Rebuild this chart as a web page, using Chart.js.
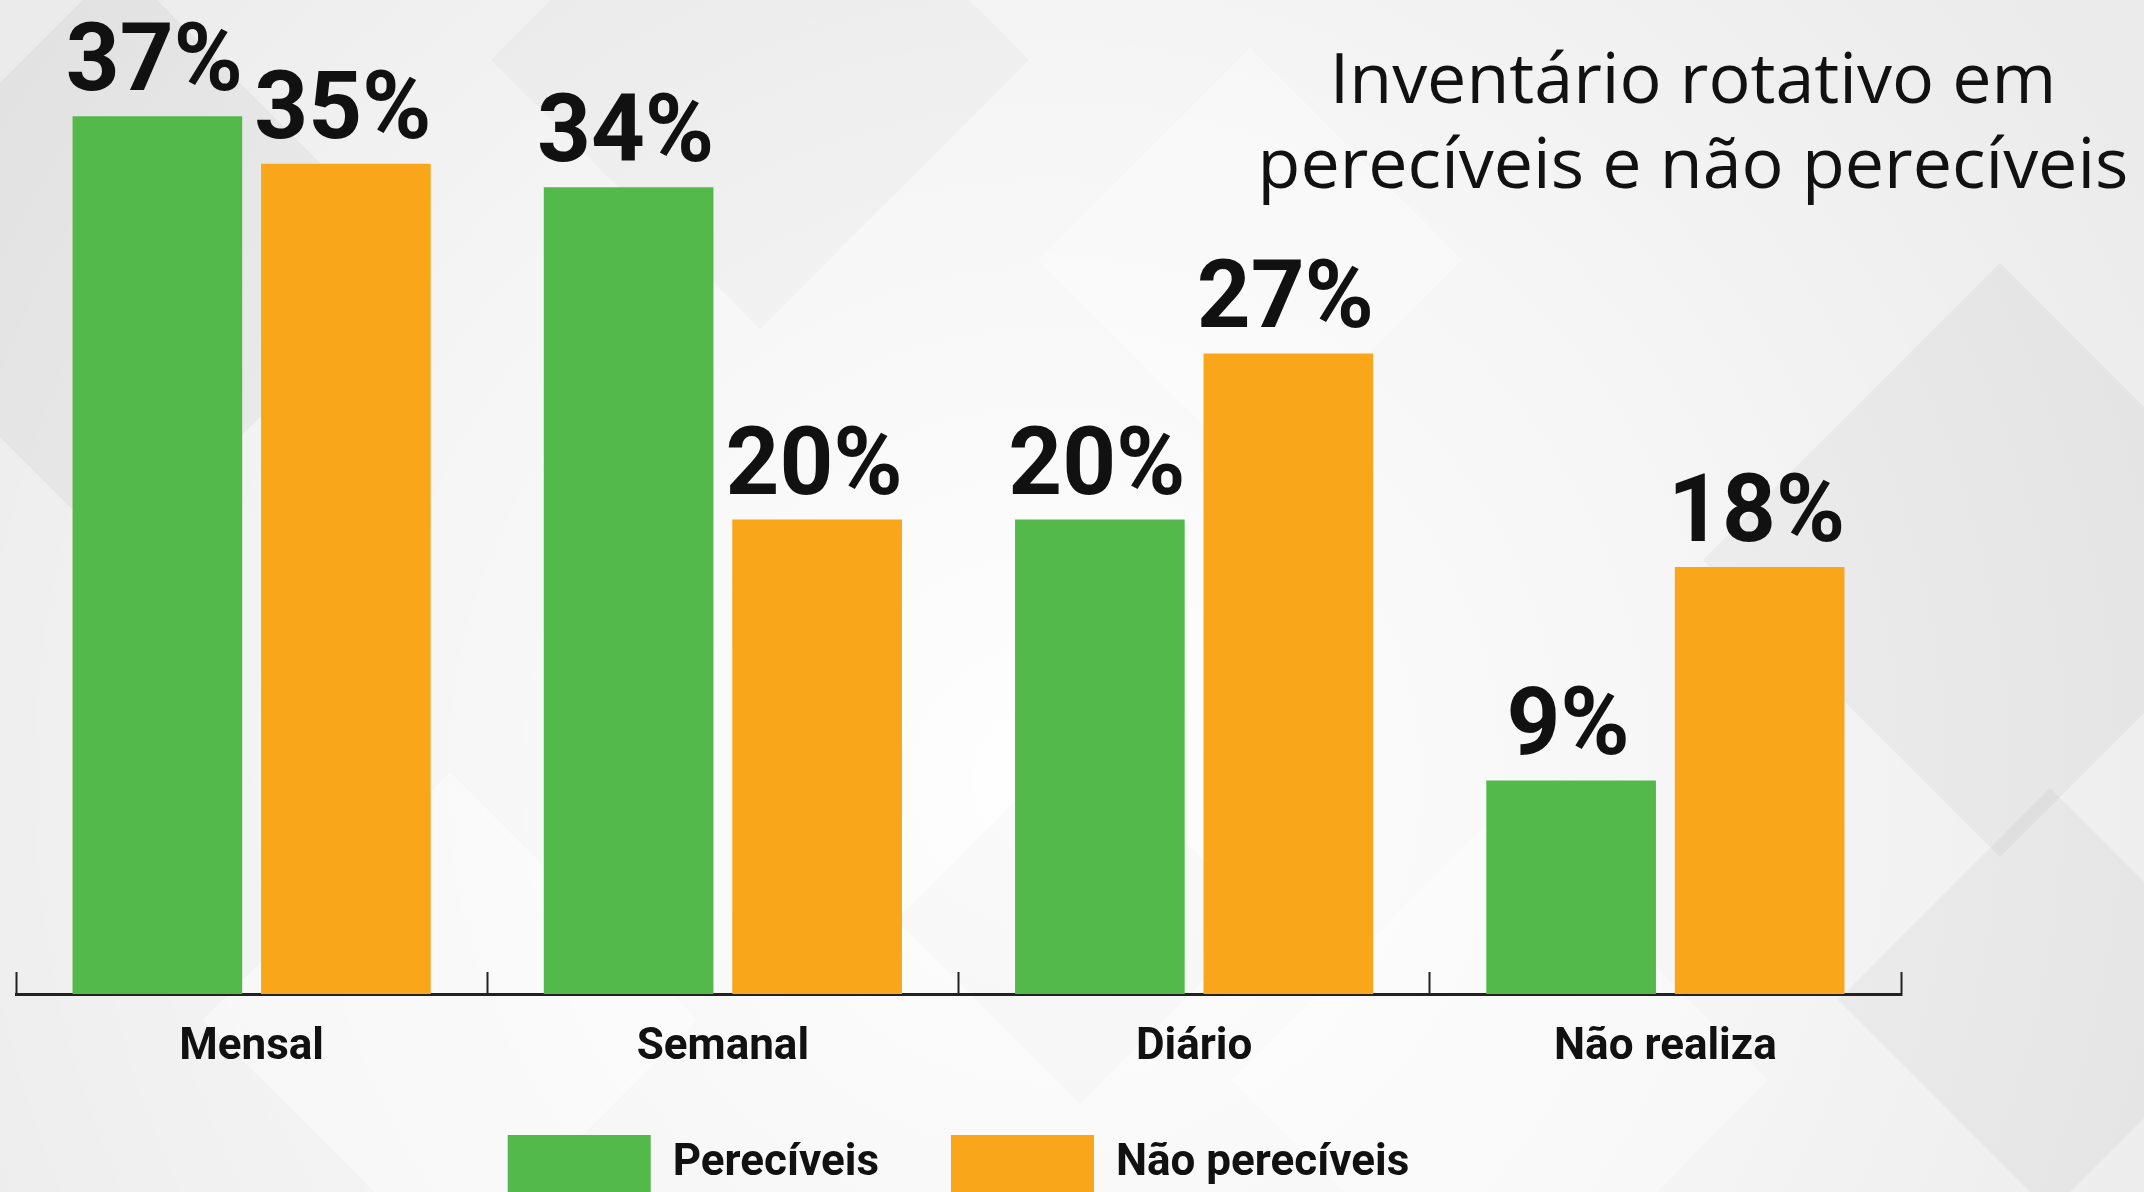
<!DOCTYPE html>
<html>
<head>
<meta charset="utf-8">
<script src="https://cdn.jsdelivr.net/npm/chart.js@4/dist/chart.umd.min.js"></script>
<style>
  html, body { margin: 0; padding: 0; background: #eeeeee; overflow: hidden; }
  canvas { display: block; }
</style>
</head>
<body>
<canvas id="c" width="2144" height="1192"></canvas>
<script>
// ---- data ----
const categories = ['Mensal', 'Semanal', 'Diário', 'Não realiza'];
const seriesNames = ['Perecíveis', 'Não perecíveis'];
const pereciveis = [37, 34, 20, 9];
const naoPereciveis = [35, 20, 27, 18];
const titleLines = ['Inventário rotativo em', 'perecíveis e não perecíveis'];
const valueSuffix = '%';

// ---- styles ----
const GREEN = '#53B94B';
const ORANGE = '#FAA61A';
const CONDENSED = 'Roboto, "Liberation Sans", sans-serif';

const backgroundPlugin = {
  id: 'bg',
  beforeDraw(chart) {
    const { ctx, width, height } = chart;
    ctx.save();
    ctx.fillStyle = '#e9e9e9';
    ctx.fillRect(0, 0, width, height);
    const g = ctx.createRadialGradient(1050, 780, 50, 1050, 780, 1250);
    g.addColorStop(0, 'rgba(255,255,255,0.95)');
    g.addColorStop(0.55, 'rgba(255,255,255,0.55)');
    g.addColorStop(1, 'rgba(255,255,255,0.1)');
    ctx.fillStyle = g;
    ctx.fillRect(0, 0, width, height);
    const squares = [
      [120, 260, 420, 'rgba(0,0,0,0.035)'],
      [760, 60, 380, 'rgba(0,0,0,0.025)'],
      [1250, 260, 300, 'rgba(255,255,255,0.3)'],
      [2000, 560, 420, 'rgba(0,0,0,0.035)'],
      [2050, 1000, 300, 'rgba(0,0,0,0.03)'],
      [1500, 1080, 380, 'rgba(255,255,255,0.35)'],
      [450, 1020, 350, 'rgba(255,255,255,0.4)'],
      [1080, 920, 260, 'rgba(0,0,0,0.015)']
    ];
    squares.forEach(([x, y, s, c]) => {
      ctx.save();
      ctx.translate(x, y);
      ctx.rotate(Math.PI / 4);
      ctx.fillStyle = c;
      ctx.fillRect(-s / 2, -s / 2, s, s);
      ctx.restore();
    });
    ctx.restore();
  }
};

const valueLabelPlugin = {
  id: 'valueLabels',
  afterDatasetsDraw(chart) {
    const { ctx } = chart;
    ctx.save();
    ctx.font = 'bold 94px ' + CONDENSED;
    ctx.fillStyle = '#111111';
    ctx.textAlign = 'center';
    ctx.textBaseline = 'alphabetic';
    chart.data.datasets.forEach((ds, i) => {
      const meta = chart.getDatasetMeta(i);
      meta.data.forEach((bar, j) => {
        ctx.fillText(ds.data[j] + valueSuffix, bar.x - 3, bar.y - 26);
      });
    });
    ctx.restore();
  }
};

const titlePlugin = {
  id: 'cornerTitle',
  afterDraw(chart) {
    const { ctx } = chart;
    ctx.save();
    ctx.font = '70px "Open Sans", sans-serif';
    ctx.fillStyle = '#111111';
    ctx.textAlign = 'center';
    ctx.textBaseline = 'alphabetic';
    ctx.fillText(titleLines[0], 1693, 103);
    ctx.fillText(titleLines[1], 1693, 188);
    ctx.restore();
  }
};

new Chart(document.getElementById('c'), {
  type: 'bar',
  data: {
    labels: categories,
    datasets: [
      { label: seriesNames[0], data: pereciveis, backgroundColor: GREEN, borderWidth: 0 },
      { label: seriesNames[1], data: naoPereciveis, backgroundColor: ORANGE, borderWidth: 0 }
    ]
  },
  options: {
    responsive: false,
    animation: false,
    devicePixelRatio: 1,
    layout: { padding: { top: 45, left: 16, right: 243, bottom: -10 } },
    datasets: { bar: { categoryPercentage: 0.8, barPercentage: 0.9 } },
    scales: {
      x: {
        grid: {
          drawOnChartArea: false,
          drawTicks: true,
          tickLength: -22,
          tickColor: '#222222',
          tickWidth: 2,
          offset: true
        },
        border: { display: true, color: '#222222', width: 3 },
        ticks: {
          color: '#111111',
          font: { family: CONDENSED, size: 44, weight: 'bold' },
          padding: 50
        },
        afterFit(scale) { scale.height = 69; }
      },
      y: {
        display: false,
        min: 0,
        max: 40
      }
    },
    plugins: {
      legend: {
        position: 'bottom',
        fullSize: false,
        align: 'center',
        labels: {
          boxWidth: 143,
          boxHeight: 57,
          padding: 72,
          color: '#111111',
          font: { family: CONDENSED, size: 44, weight: 'bold' }
        }
      },
      tooltip: { enabled: false },
      title: { display: false }
    }
  },
  plugins: [backgroundPlugin, valueLabelPlugin, titlePlugin]
});
</script>
</body>
</html>
